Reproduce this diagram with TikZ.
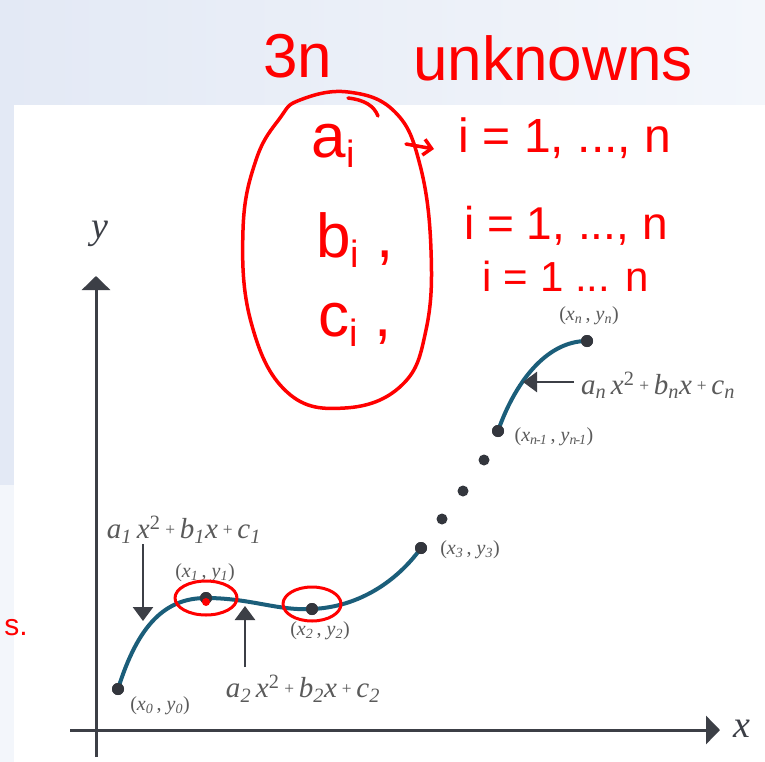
\documentclass[tikz,border=0pt]{standalone}
\usepackage{fontspec}
\setmainfont{Liberation Serif}
\newfontfamily\handfont{Liberation Sans}
\usetikzlibrary{arrows.meta,shapes.geometric}
\definecolor{axisgray}{HTML}{3C3F46}
\definecolor{curveblue}{HTML}{1B5E7A}
\definecolor{ptdark}{HTML}{33363D}
\definecolor{lblgray}{HTML}{5A5A5A}
\definecolor{bgblue}{HTML}{E3E9F5}
\definecolor{bglight}{HTML}{F3F6FB}
\definecolor{inkred}{HTML}{FF0000}
\newcommand\ssb[1]{\textsubscript{\textit{#1}}}
\newcommand\ssp[1]{\textsuperscript{#1}}
\newcommand\PLS{\,\raisebox{0.25ex}{\scalebox{0.6}{+}}\,}
\newcommand\PL[2]{(\textit{x}\ssb{#1}\,, \textit{y}\ssb{#2})}
\newcommand\QL[1]{\textit{a}\ssb{#1}\,\textit{x}\ssp{2}\PLS\textit{b}\ssb{#1}\textit{x}\PLS\textit{c}\ssb{#1}}
\tikzset{
  axis/.style={draw=axisgray,line width=3pt,-{Triangle[width=28pt,length=14pt]}},
  curve/.style={draw=curveblue,line width=4pt,line cap=round},
  pt/.style={circle,fill=ptdark,inner sep=0pt,minimum size=12pt},
  dotpt/.style={circle,fill=ptdark,inner sep=0pt,minimum size=11pt},
  ptlbl/.style={text=lblgray,font=\fontsize{20}{22}\selectfont,inner sep=1pt},
  qlbl/.style={text=lblgray,font=\fontsize{29}{32}\selectfont,inner sep=1pt},
  axlbl/.style={text=axisgray,font=\fontsize{38}{42}\selectfont\itshape,inner sep=0pt},
  pointer/.style={draw=axisgray,line width=2.5pt,-{Triangle[width=20pt,length=14pt]}},
  ink/.style={draw=inkred,line width=3.5pt,line cap=round,line join=round},
  inktext/.style={text=inkred,font=\handfont,inner sep=0pt}
}
\begin{document}
\begin{tikzpicture}[x=1pt,y=-1pt]
\useasboundingbox (0,0) rectangle (765,762);
% background
\fill[bglight] (0,0) rectangle (765,762);
\shade[left color=bgblue,right color=bglight] (0,0) rectangle (765,105);
\fill[bgblue] (0,105) rectangle (14,485);
\fill[white] (14,105) rectangle (765,762);
% axes
\coordinate (ybot) at (96,757);
\coordinate (ytop) at (96,276);
\coordinate (xlft) at (70,730);
\coordinate (xrgt) at (720,730);
\draw[axis] (ybot) -- (ytop);
\draw[axis] (xlft) -- (xrgt);
\node[axlbl] (ylab) at (100,234) {y};
\node[axlbl] (xlab) at (742,729) {x};
% points
\node[pt] (p0) at (118,689) {};
\node[pt] (p1) at (206,598) {};
\node[pt] (p2) at (312,609) {};
\node[pt] (p3) at (421,548) {};
\node[dotpt] (d1) at (442,519) {};
\node[dotpt] (d2) at (463,491) {};
\node[dotpt] (d3) at (484,460) {};
\node[pt] (pm) at (498,431) {};
\node[pt] (pn) at (587,341) {};
% curves
\draw[curve] (p0.center) .. controls (138,625) and (165,598) .. (206,598)
  .. controls (250,598) and (278,611) .. (312,609)
  .. controls (360,607) and (398,580) .. (p3.center);
\draw[curve] (pm.center) .. controls (514,385) and (545,341) .. (pn.center);
\node[pt] at (p0) {};\node[pt] at (p1) {};\node[pt] at (p2) {};
\node[pt] at (p3) {};\node[pt] at (pm) {};\node[pt] at (pn) {};
% point labels
\node[ptlbl] (l0) at (160,706) {\PL{0}{0}};
\node[ptlbl] (l1) at (205,573) {\PL{1}{1}};
\node[ptlbl] (l2) at (320,631) {\PL{2}{2}};
\node[ptlbl] (l3) at (470,550) {\PL{3}{3}};
\node[ptlbl] (lm) at (554,437) {\PL{n\kern-1pt-\kern-1pt1}{n\kern-1pt-\kern-1pt1}};
\node[ptlbl] (ln) at (589,316) {\PL{n}{n}};
% quadratic labels and pointers
\node[qlbl] (q1) at (184,530) {\QL{1}};
\node[qlbl] (q2) at (303,689) {\QL{2}};
\node[qlbl] (qn) at (658,385) {\QL{n}};
\coordinate (q1a) at (143,544);
\coordinate (q1b) at (143,621);
\coordinate (q2a) at (245,667);
\coordinate (q2b) at (245,606);
\coordinate (qna) at (574,382);
\coordinate (qnb) at (523,382);
\draw[pointer] (q1a) -- (q1b);
\draw[pointer] (q2a) -- (q2b);
\draw[pointer] (qna) -- (qnb);
% ---- red handwritten annotations ----
\node[inktext,font=\handfont\fontsize{62}{70}\selectfont] (t3n) at (298,56) {3n};
\node[inktext,font=\handfont\fontsize{62}{70}\selectfont] (tunk) at (553,58) {unknowns};
\draw[ink] plot[smooth cycle,tension=0.7] coordinates {(300,100) (348,92) (395,112) (420,165) (431,250) (426,330) (402,385) (345,408) (287,392) (251,322) (243,230) (256,160) (280,118)};
\draw[ink] (348,98) .. controls (365,100) and (374,106) .. (378,116);
\node[inktext,font=\handfont\fontsize{62}{70}\selectfont] (ta) at (333,146) {a\raisebox{-0.3ex}{\fontsize{38}{40}\selectfont i}};
\node[inktext,font=\handfont\fontsize{62}{70}\selectfont] (tb) at (355,240) {b\raisebox{-0.3ex}{\fontsize{38}{40}\selectfont i} ,};
\node[inktext,font=\handfont\fontsize{62}{70}\selectfont] (tc) at (355,325) {c\raisebox{-0.3ex}{\fontsize{38}{40}\selectfont i} ,};
\coordinate (arA) at (406,144);
\coordinate (arB) at (434,149);
\draw[ink,-{Straight Barb[length=8pt,width=16pt]}] (arA) -- (arB);
\node[inktext,font=\handfont\fontsize{48}{52}\selectfont] (r1) at (565,138) {i = 1, ..., n};
\node[inktext,font=\handfont\fontsize{46}{50}\selectfont] (r2) at (566,226) {i = 1, ..., n};
\node[inktext,font=\handfont\fontsize{42}{46}\selectfont] (r3) at (566,276) {i = 1 ... n};
\draw[ink,line width=3pt] (p1) ellipse [x radius=31pt,y radius=17pt];
\draw[ink,line width=3pt] (p2) ++(0,-5) ellipse [x radius=29pt,y radius=17pt];
\fill[inkred] (206,602) circle (4pt);
\node[inktext,font=\handfont\fontsize{30}{34}\selectfont] (ts) at (16,628) {s.};
\end{tikzpicture}
\end{document}
